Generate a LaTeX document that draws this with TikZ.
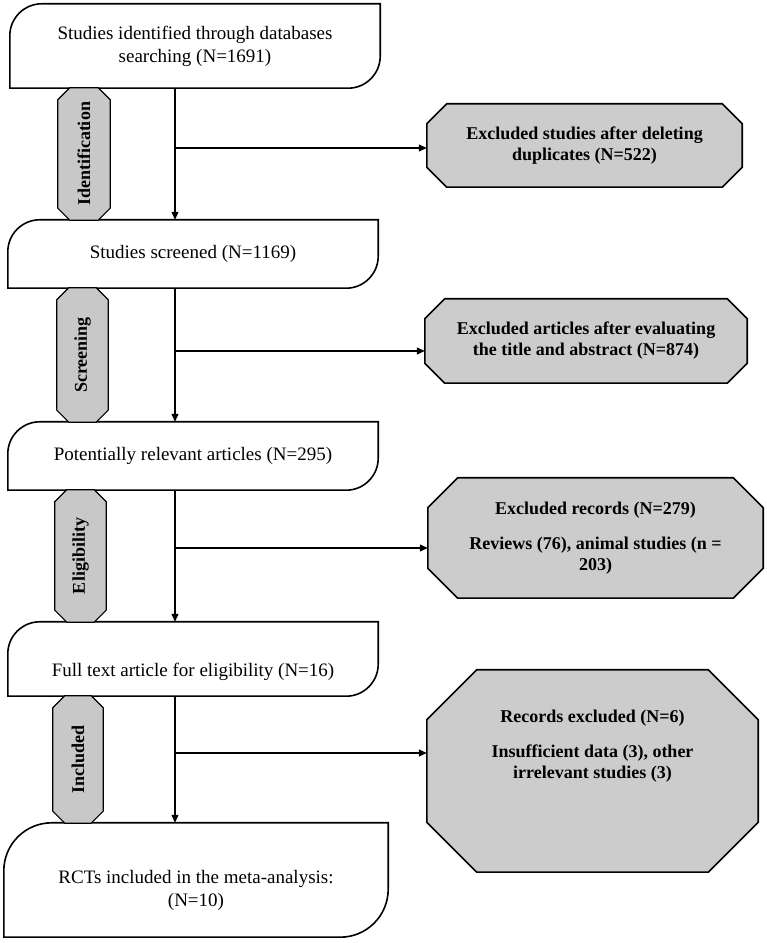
\documentclass[tikz,border=0pt]{standalone}
\usepackage{fontspec}
\setmainfont{Liberation Serif}
\usetikzlibrary{arrows.meta}
\pgfdeclarelayer{background}
\pgfsetlayers{background,main}
\definecolor{greyfill}{RGB}{204,204,204}
\definecolor{pillfill}{RGB}{200,200,200}
\tikzset{
  whitetext/.style={font=\fontsize{19}{23}\selectfont, align=center, inner sep=0pt},
  greytext/.style={font=\fontsize{18}{21}\selectfont\bfseries, align=center, inner sep=0pt},
  stagebox/.style={draw=none, minimum width=#1, inner sep=0pt},
  boxline/.style={draw=black, line width=1.6pt, fill=white},
  octline/.style={draw=black, line width=1.6pt, fill=greyfill},
  pillline/.style={draw=black, line width=1.2pt, fill=pillfill},
  pilltext/.style={font=\fontsize{18}{21}\selectfont\bfseries, rotate=90, inner sep=0pt},
  arr/.style={line width=1.2pt, -{Triangle[length=8pt,width=7pt]}},
  plainline/.style={line width=1.2pt}
}
\newcommand{\roundbox}[2]{%
  \path[boxline] (#1.south west) -- ([yshift=-#2]#1.north west)
    arc[start angle=180,end angle=90,radius=#2] -- (#1.north east)
    -- ([yshift=#2]#1.south east)
    arc[start angle=0,end angle=-90,radius=#2] -- cycle;}
\newcommand{\octbox}[3]{%
  \path[#3] ([xshift=#2]#1.north west) -- ([xshift=-#2]#1.north east)
    -- ([yshift=-#2]#1.north east) -- ([yshift=#2]#1.south east)
    -- ([xshift=-#2]#1.south east) -- ([xshift=#2]#1.south west)
    -- ([yshift=#2]#1.south west) -- ([yshift=-#2]#1.north west) -- cycle;}
\begin{document}
\begin{tikzpicture}[x=1pt,y=1pt]
\useasboundingbox (0,0) rectangle (767,943);

% main stage boxes
\node[stagebox=370pt, minimum height=84pt, whitetext] (b1) at (195,897)
  {Studies identified through databases\\searching (N=1691)};
\node[stagebox=370pt, minimum height=68pt, whitetext] (b2) at (193,689)
  {Studies screened (N=1169)};
\node[stagebox=370pt, minimum height=68pt, whitetext] (b3) at (193,487)
  {Potentially relevant articles (N=295)};
\node[stagebox=370pt, minimum height=74pt] (b4) at (193,284) {};
\node[whitetext] (t4) at (193,271) {Full text article for eligibility (N=16)};
\node[stagebox=384pt, minimum height=114pt] (b5) at (196,63) {};
\node[whitetext] (t5) at (196,53) {RCTs included in the meta-analysis:\\(N=10)};

% excluded boxes
\node[stagebox=315pt, minimum height=83pt, greytext] (e1) at (584.5,797.5)
  {Excluded studies after deleting\\duplicates (N=522)};
\node[stagebox=322pt, minimum height=84pt, greytext] (e2) at (586,602)
  {Excluded articles after evaluating\\the title and abstract (N=874)};
\node[stagebox=335pt, minimum height=120pt, greytext] (e3) at (595.5,405)
  {Excluded records (N=279)\\[14pt]Reviews (76), animal studies (n =\\203)};
\node[stagebox=331pt, minimum height=202pt] (e4) at (592.5,172) {};
\node[greytext] (t6) at (592.5,197)
  {Records excluded (N=6)\\[14pt]Insufficient data (3), other\\irrelevant studies (3)};

% stage pills
\node[stagebox=52pt, minimum height=132pt] (p1) at (84,789) {};
\node[pilltext] (l1) at (p1) {Identification};
\node[stagebox=51pt, minimum height=134pt] (p2) at (82.5,588) {};
\node[pilltext] (l2) at (p2) {Screening};
\node[stagebox=51pt, minimum height=132pt] (p3) at (80.5,387) {};
\node[pilltext] (l3) at (p3) {Eligibility};
\node[stagebox=50pt, minimum height=127pt] (p4) at (78,183.5) {};
\node[pilltext] (l4) at (p4) {Included};

\begin{pgfonlayer}{background}
  \roundbox{b1}{32pt}
  \roundbox{b2}{32pt}
  \roundbox{b3}{32pt}
  \roundbox{b4}{32pt}
  \roundbox{b5}{48pt}
  \octbox{e1}{20pt}{octline}
  \octbox{e2}{20pt}{octline}
  \octbox{e3}{30pt}{octline}
  \octbox{e4}{50pt}{octline}
  \octbox{p1}{12pt}{pillline}
  \octbox{p2}{12pt}{pillline}
  \octbox{p3}{12pt}{pillline}
  \octbox{p4}{12pt}{pillline}
\end{pgfonlayer}

% connectors
\coordinate (spine) at (175,0);
\draw[arr] (b1.south -| spine) -- (b2.north -| spine);
\draw[arr] (b2.south -| spine) -- (b3.north -| spine);
\draw[arr] (b3.south -| spine) -- (b4.north -| spine);
\draw[arr] (b4.south -| spine) -- (b5.north -| spine);

\coordinate (j1) at (175,795);
\coordinate (j2) at (175,592);
\coordinate (j3) at (175,395);
\coordinate (j4) at (175,190);
\draw[arr] (j1) -- (j1 -| e1.west);
\draw[arr] (j2) -- (j2 -| e2.west);
\draw[arr] (j3) -- (j3 -| e3.west);
\draw[arr] (j4) -- (j4 -| e4.west);
\end{tikzpicture}
\end{document}
